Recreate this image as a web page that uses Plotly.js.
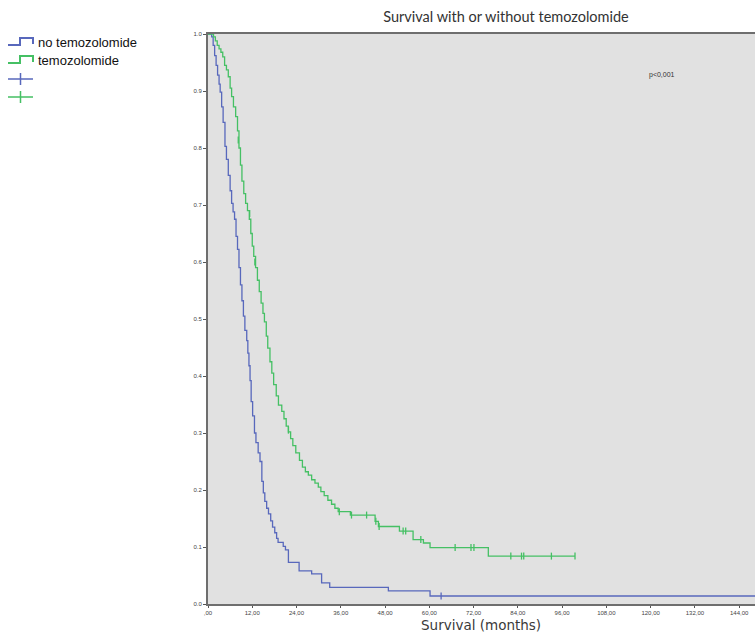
<!DOCTYPE html>
<html>
<head>
<meta charset="utf-8">
<script src="https://cdn.plot.ly/plotly-3.0.1.min.js"></script>
<style>html,body{margin:0;padding:0;background:#fff;}#chart{width:755px;height:632px;}</style>
</head>
<body>
<div id="chart"></div>
<script>
// ---- Data ----
const noTmzTime = [0, 1.0, 1.4, 1.8, 2.2, 2.6, 3.0, 3.3, 3.7, 4.1, 4.6, 5.0, 5.5, 6.0, 6.4, 6.8, 7.2, 7.6, 8.0, 8.4, 8.8, 9.2, 9.6, 10.0, 10.5, 10.8, 11.1, 11.4, 11.7, 12.1, 12.6, 13.0, 13.6, 14.1, 14.6, 15.0, 15.4, 15.9, 16.4, 17.0, 17.5, 18.1, 18.6, 19.0, 20.4, 21.0, 21.8, 24.7, 28.1, 30.8, 33.0, 48.9, 60.2, 150];
const noTmzSurv = [1.000, 0.995, 0.980, 0.962, 0.945, 0.928, 0.912, 0.898, 0.872, 0.845, 0.803, 0.780, 0.752, 0.725, 0.703, 0.688, 0.675, 0.645, 0.622, 0.590, 0.560, 0.532, 0.505, 0.480, 0.462, 0.440, 0.418, 0.392, 0.355, 0.330, 0.300, 0.283, 0.265, 0.250, 0.215, 0.195, 0.180, 0.168, 0.158, 0.146, 0.135, 0.125, 0.115, 0.108, 0.101, 0.095, 0.073, 0.058, 0.053, 0.037, 0.029, 0.023, 0.014, 0.014];
const noTmzCensTime = [63.2];
const noTmzCensSurv = [0.014];

const tmzTime = [0, 1.5, 2.0, 2.5, 3.0, 3.5, 4.0, 4.5, 5.0, 5.5, 6.0, 6.4, 6.9, 7.5, 8.0, 8.4, 8.8, 9.2, 9.7, 10.2, 10.7, 11.2, 11.6, 12.0, 12.4, 12.9, 13.4, 13.9, 14.4, 14.9, 15.3, 15.8, 16.2, 16.8, 17.3, 17.8, 18.5, 19.1, 20.0, 20.6, 21.2, 21.8, 22.4, 23.0, 23.8, 24.8, 25.6, 26.4, 27.2, 28.1, 29.0, 29.9, 30.6, 31.5, 32.5, 33.5, 34.4, 35.3, 38.6, 45.3, 46.2, 51.9, 55.6, 58.4, 60.2, 76.0, 99.5];
const tmzSurv = [1.000, 0.995, 0.988, 0.980, 0.974, 0.968, 0.960, 0.945, 0.937, 0.925, 0.905, 0.890, 0.872, 0.855, 0.830, 0.800, 0.770, 0.742, 0.720, 0.703, 0.690, 0.675, 0.650, 0.628, 0.610, 0.590, 0.568, 0.548, 0.528, 0.510, 0.495, 0.470, 0.449, 0.425, 0.405, 0.385, 0.365, 0.349, 0.338, 0.325, 0.312, 0.302, 0.290, 0.278, 0.265, 0.252, 0.240, 0.232, 0.226, 0.218, 0.212, 0.205, 0.197, 0.190, 0.182, 0.175, 0.168, 0.162, 0.156, 0.145, 0.136, 0.128, 0.113, 0.107, 0.099, 0.084, 0.084];
const tmzCensTime = [8.2, 11.3, 12.7, 21.8, 35.6, 38.9, 43.0, 45.5, 46.4, 52.9, 53.6, 57.7, 67.0, 71.3, 72.1, 82.1, 85.0, 85.6, 93.1, 99.5];
const tmzCensSurv = [0.814, 0.685, 0.600, 0.305, 0.162, 0.156, 0.156, 0.145, 0.136, 0.128, 0.128, 0.113, 0.099, 0.099, 0.099, 0.084, 0.084, 0.084, 0.084, 0.084];

const xTickVals = [0, 12, 24, 36, 48, 60, 72, 84, 96, 108, 120, 132, 144];
const xTickText = [",00", "12,00", "24,00", "36,00", "48,00", "60,00", "72,00", "84,00", "96,00", "108,00", "120,00", "132,00", "144,00"];
const yTickVals = [0, 0.1, 0.2, 0.3, 0.4, 0.5, 0.6, 0.7, 0.8, 0.9, 1.0];
const yTickText = ["0.0", "0.1", "0.2", "0.3", "0.4", "0.5", "0.6", "0.7", "0.8", "0.9", "1.0"];

const legendLabels = ["no temozolomide", "temozolomide"];
const xTitle = 'Survival (months)';

// ---- Styling ----
const BLUE = '#5868bc';
const GREEN = '#45c064';
const W = 755, H = 632;
const M = {l: 208, r: 0, t: 34, b: 28};
const pw = W - M.l - M.r, ph = H - M.t - M.b;
const px = x => (x - M.l) / pw;          // pixel -> paper x
const py = y => (H - M.b - y) / ph;      // pixel -> paper y

const traces = [
  {x: noTmzTime, y: noTmzSurv, type: 'scatter', mode: 'lines', line: {shape: 'hv', color: BLUE, width: 1.3}, showlegend: false, hoverinfo: 'skip'},
  {x: tmzTime, y: tmzSurv, type: 'scatter', mode: 'lines', line: {shape: 'hv', color: GREEN, width: 1.3}, showlegend: false, hoverinfo: 'skip'},
  {x: noTmzCensTime, y: noTmzCensSurv, type: 'scatter', mode: 'markers', marker: {symbol: 'line-ns', size: 5, line: {color: BLUE, width: 1.3}}, showlegend: false, hoverinfo: 'skip'},
  {x: tmzCensTime, y: tmzCensSurv, type: 'scatter', mode: 'markers', marker: {symbol: 'line-ns', size: 5, line: {color: GREEN, width: 1.3}}, showlegend: false, hoverinfo: 'skip'}
];

// legend drawn with paper shapes
function stepPath(x0, y0) {
  return 'M ' + px(x0) + ',' + py(y0) + ' L ' + px(x0 + 12) + ',' + py(y0) + ' L ' + px(x0 + 12) + ',' + py(y0 - 7) +
         ' L ' + px(x0 + 25) + ',' + py(y0 - 7) + ' L ' + px(x0 + 25) + ',' + py(y0 - 1);
}
function plusPath(x0, yc) {
  return 'M ' + px(x0) + ',' + py(yc) + ' L ' + px(x0 + 25) + ',' + py(yc) +
         ' M ' + px(x0 + 12.5) + ',' + py(yc - 6) + ' L ' + px(x0 + 12.5) + ',' + py(yc + 6);
}
const shapes = [
  {type: 'path', xref: 'paper', yref: 'paper', path: stepPath(8, 45), line: {color: BLUE, width: 2}},
  {type: 'path', xref: 'paper', yref: 'paper', path: stepPath(8, 63), line: {color: GREEN, width: 2}},
  {type: 'path', xref: 'paper', yref: 'paper', path: plusPath(8, 79), line: {color: BLUE, width: 1.5}},
  {type: 'path', xref: 'paper', yref: 'paper', path: plusPath(8, 97), line: {color: GREEN, width: 1.5}}
];

const annotations = [
  {xref: 'paper', yref: 'paper', x: px(36), y: py(42), text: legendLabels[0], showarrow: false, xanchor: 'left', yanchor: 'middle', font: {family: 'Liberation Sans, Arial', size: 13, color: '#111'}},
  {xref: 'paper', yref: 'paper', x: px(36), y: py(60), text: legendLabels[1], showarrow: false, xanchor: 'left', yanchor: 'middle', font: {family: 'Liberation Sans, Arial', size: 13, color: '#111'}},
  {xref: 'x', yref: 'y', x: 123, y: 0.928, text: 'p<0,001', showarrow: false, xanchor: 'center', yanchor: 'middle', font: {family: 'Liberation Sans, Arial', size: 7, color: '#333'}},
  {xref: 'paper', yref: 'paper', x: px(481), y: py(634), text: xTitle, showarrow: false, xanchor: 'center', yanchor: 'bottom', borderpad: 0, font: {family: 'DejaVu Sans, sans-serif', size: 13.5, color: '#3a3a3a'}}
];

const layout = {
  width: W, height: H,
  margin: M,
  paper_bgcolor: '#ffffff',
  plot_bgcolor: '#e1e1e1',
  showlegend: false,
  title: {text: 'Survival with or without temozolomide', x: 506 / W, xanchor: 'center', y: 1 - 17 / H, yanchor: 'middle', font: {family: 'Lato, Open Sans, sans-serif', size: 14.5, color: '#333'}},
  xaxis: {
    range: [0, 148.3], showgrid: false, zeroline: false,
    tickvals: xTickVals, ticktext: xTickText,
    ticks: 'outside', ticklen: 2, tickwidth: 1, tickcolor: '#555',
    tickfont: {family: 'Liberation Sans, Arial', size: 6, color: '#444'},
    showline: true, linecolor: '#6e6e6e', linewidth: 2, mirror: true
  },
  yaxis: {
    range: [0, 1], showgrid: false, zeroline: false,
    tickvals: yTickVals, ticktext: yTickText,
    ticks: 'outside', ticklen: 3, tickwidth: 1, tickcolor: '#555',
    tickfont: {family: 'Liberation Sans, Arial', size: 6, color: '#444'},
    showline: true, linecolor: '#6e6e6e', linewidth: 2
  },
  shapes: shapes,
  annotations: annotations
};

Plotly.newPlot('chart', traces, layout, {displayModeBar: false, staticPlot: true});
</script>
</body>
</html>
